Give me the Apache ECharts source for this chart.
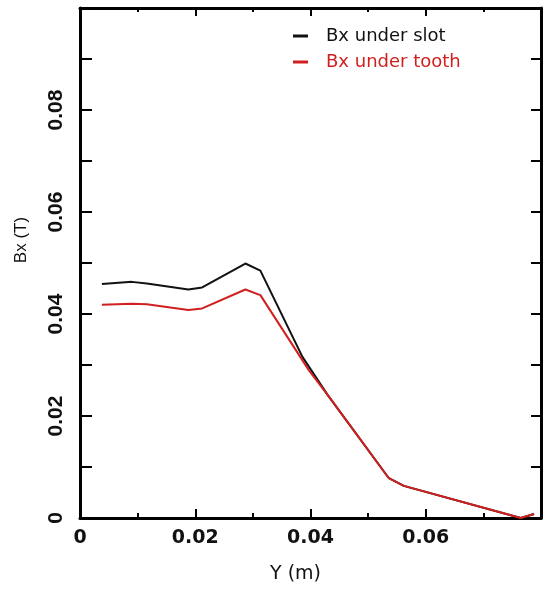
<html>
<head>
<meta charset="utf-8">
<title>Bx</title>
<script src="https://cdn.jsdelivr.net/npm/echarts@6/dist/echarts.min.js"></script>
</head>
<body style="margin:0;background:#fff">
	<div id="main" style="width: 550px; height: 589px;"></div>
	<script type="text/javascript">
		// data
		var slotY = [0.0038, 0.0090, 0.0116, 0.0188, 0.0212, 0.0287, 0.0313, 0.0386, 0.0430, 0.0536, 0.0562, 0.0765, 0.0788];
		var slotBx = [0.0459, 0.0463, 0.0460, 0.0448, 0.0452, 0.0499, 0.0485, 0.0316, 0.0241, 0.0078, 0.0063, 0.0000, 0.0008];
		var toothY = [0.0038, 0.0090, 0.0116, 0.0188, 0.0212, 0.0287, 0.0313, 0.0397, 0.0430, 0.0536, 0.0562, 0.0765, 0.0788];
		var toothBx = [0.0418, 0.0420, 0.0419, 0.0408, 0.0411, 0.0448, 0.0437, 0.0290, 0.0241, 0.0078, 0.0063, 0.0000, 0.0008];

		function pairs(xs, ys) {
			var out = [];
			for (var i = 0; i < xs.length; i++) {
				out.push([xs[i], ys[i]]);
			}
			return out;
		}

		var myChart = echarts.init(document.getElementById('main'));

		var frameLine = { show: true, onZero: false, lineStyle: { color: '#000', width: 3 } };

		myChart.setOption({
			backgroundColor: '#fff',
			animation: false,
			grid: {
				left: 80,
				right: 9,
				top: 8,
				bottom: 71
			},
			legend: {
				orient: 'vertical',
				left: 288,
				top: 22,
				itemWidth: 15,
				itemHeight: 3,
				itemGap: 8,
				icon: 'rect',
				textStyle: {
					fontFamily: 'DejaVu Sans',
					fontSize: 18,
					padding: [0, 0, 0, 13]
				},
				data: [
					{ name: 'Bx under slot', textStyle: { color: '#111' } },
					{ name: 'Bx under tooth', textStyle: { color: '#d11f1f' } }
				]
			},
			xAxis: [
				{
					type: 'value',
					min: 0,
					max: 0.08,
					interval: 0.02,
					name: 'Y (m)',
					nameLocation: 'middle',
					nameGap: 47,
					nameTextStyle: {
						fontFamily: 'DejaVu Sans',
						fontSize: 19,
						color: '#111',
						padding: [0, 30, 0, 0]
					},
					axisLine: frameLine,
					axisTick: { show: true, inside: true, length: 9, lineStyle: { color: '#000', width: 2 } },
					minorTick: { show: true, splitNumber: 2, length: 5, lineStyle: { color: '#000', width: 2 } },
					splitLine: { show: false },
					axisLabel: {
						showMaxLabel: false,
						margin: 11,
						fontFamily: 'DejaVu Sans',
						fontWeight: 'bold',
						fontSize: 19,
						color: '#111'
					}
				},
				{
					type: 'value',
					position: 'top',
					min: 0,
					max: 0.08,
					interval: 0.02,
					axisLine: frameLine,
					axisTick: { show: true, inside: true, length: 8, lineStyle: { color: '#000', width: 2 } },
					minorTick: { show: true, splitNumber: 2, length: 4, lineStyle: { color: '#000', width: 2 } },
					splitLine: { show: false },
					axisLabel: { show: false }
				}
			],
			yAxis: [
				{
					type: 'value',
					min: 0,
					max: 0.1,
					interval: 0.02,
					name: 'Bx (T)',
					nameLocation: 'middle',
					nameGap: 50,
					nameTextStyle: {
						fontFamily: 'Liberation Sans',
						fontSize: 17,
						color: '#111',
						padding: [0, 0, 0, 46]
					},
					axisLine: frameLine,
					axisTick: { show: true, inside: true, length: 12, lineStyle: { color: '#000', width: 2 } },
					minorTick: { show: true, splitNumber: 2, length: 12, lineStyle: { color: '#000', width: 2 } },
					splitLine: { show: false },
					axisLabel: {
						rotate: 90,
						showMaxLabel: false,
						margin: 13,
						fontFamily: 'Liberation Sans',
						fontWeight: 'bold',
						fontSize: 21,
						color: '#111'
					}
				},
				{
					type: 'value',
					position: 'right',
					min: 0,
					max: 0.1,
					interval: 0.02,
					axisLine: frameLine,
					axisTick: { show: true, inside: true, length: 10, lineStyle: { color: '#000', width: 2 } },
					minorTick: { show: true, splitNumber: 2, length: 10, lineStyle: { color: '#000', width: 2 } },
					splitLine: { show: false },
					axisLabel: { show: false }
				}
			],
			series: [
				{
					name: 'Bx under slot',
					type: 'line',
					showSymbol: false,
					color: '#111',
					lineStyle: { width: 2 },
					data: pairs(slotY, slotBx)
				},
				{
					name: 'Bx under tooth',
					type: 'line',
					showSymbol: false,
					color: '#d11f1f',
					lineStyle: { width: 2 },
					data: pairs(toothY, toothBx)
				}
			]
		});
	</script>
</body>
</html>
